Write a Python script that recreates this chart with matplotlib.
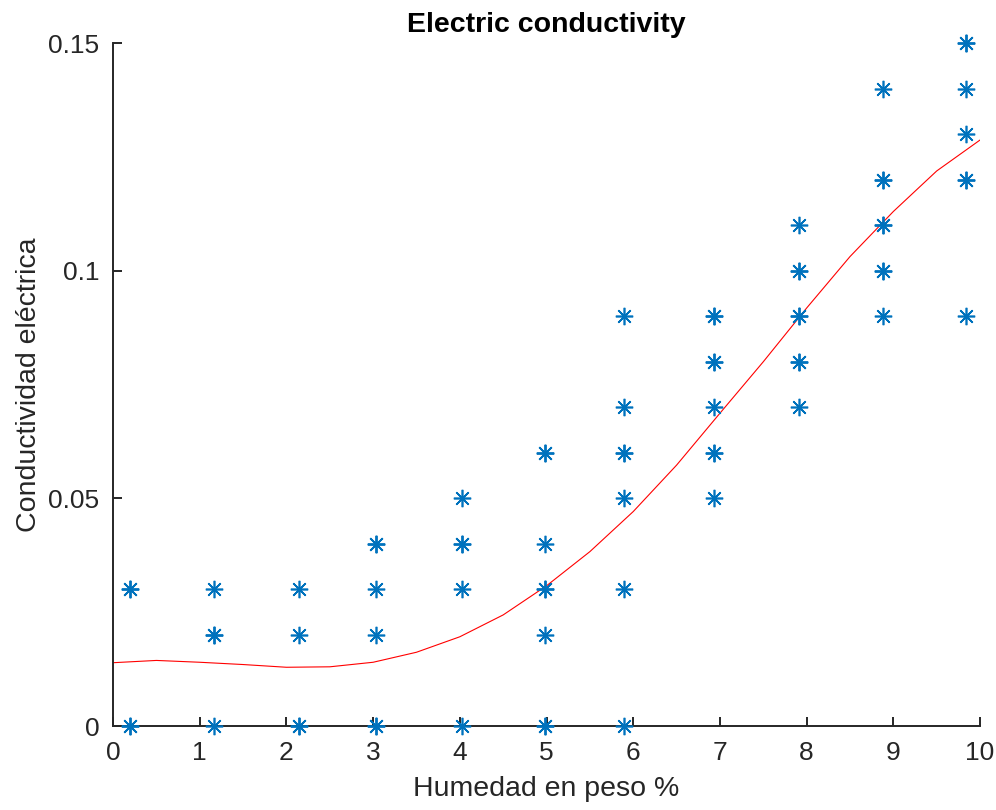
"""Electric conductivity against moisture content, with smoothed trend."""

import matplotlib
import matplotlib.pyplot as plt
import numpy as np

matplotlib.use("Agg")

# moisture columns (% by weight) and measured conductivities at each
humidity = [0.19, 1.17, 2.14, 3.03, 4.03, 4.98, 5.89, 6.93, 7.91, 8.88, 9.84]
conductivity = [
    [0, 0, 0.03, 0.03],
    [0, 0.02, 0.02, 0.03],
    [0, 0, 0.02, 0.03],
    [0, 0, 0.02, 0.03, 0.04, 0.04],
    [0, 0.03, 0.04, 0.04, 0.05],
    [0, 0, 0.02, 0.03, 0.03, 0.04, 0.06, 0.06],
    [0, 0.03, 0.05, 0.06, 0.06, 0.07, 0.09],
    [0.05, 0.06, 0.06, 0.07, 0.08, 0.08, 0.09, 0.09],
    [0.07, 0.08, 0.08, 0.09, 0.09, 0.10, 0.10, 0.11],
    [0.09, 0.10, 0.10, 0.11, 0.11, 0.12, 0.12, 0.14],
    [0.09, 0.12, 0.12, 0.13, 0.14, 0.15, 0.15],
]

# smoothed fit evaluated on a 0.5 % grid
fit_x = np.arange(0, 10.5, 0.5)
fit_y = [0.0139, 0.0144, 0.0140, 0.0135, 0.0129, 0.0130, 0.0140, 0.0162,
         0.0196, 0.0244, 0.0308, 0.0383, 0.0471, 0.0573, 0.0687, 0.0800,
         0.0918, 0.1031, 0.1130, 0.1219, 0.1287]

TEXT = "#262626"
BLUE = "#0072BD"
ASTERISK = (8, 2, 0)

plt.rcParams["font.family"] = ["Liberation Sans", "DejaVu Sans"]

fig = plt.figure(figsize=(9.96, 8.10), dpi=100)
ax = fig.add_axes([0.1135, 0.1037, 0.8705, 0.8432])

xs = [h for h, vals in zip(humidity, conductivity) for _ in vals]
ys = [v for vals in conductivity for v in vals]
ax.plot(xs, ys, linestyle="none", marker=ASTERISK, markersize=12.5,
        markeredgewidth=1.2, color=BLUE, clip_on=False, zorder=3)
ax.plot(fit_x, fit_y, color="red", linewidth=0.8, zorder=2)

ax.set_xlim(0, 10)
ax.set_ylim(0, 0.15)
ax.set_xticks(range(0, 11))
ax.set_yticks([0, 0.05, 0.1, 0.15])
ax.set_yticklabels(["0", "0.05", "0.1", "0.15"])

for side in ("top", "right"):
    ax.spines[side].set_visible(False)
for side in ("left", "bottom"):
    ax.spines[side].set_color(TEXT)
    ax.spines[side].set_linewidth(1.4)
ax.tick_params(direction="in", length=6.5, width=1.4, color=TEXT,
               labelcolor=TEXT, labelsize=19)
ax.tick_params(axis="x", pad=11)
ax.tick_params(axis="y", pad=10)

ax.set_xlabel("Humedad en peso %", color=TEXT, fontsize=20.5, labelpad=8)
ax.set_ylabel("Conductividad eléctrica", color=TEXT, fontsize=20.5,
              labelpad=4)
ax.set_title("Electric conductivity", fontsize=20.5, fontweight="bold",
             color="black", pad=8)

fig.savefig("out.png", dpi=100)
plt.close(fig)
